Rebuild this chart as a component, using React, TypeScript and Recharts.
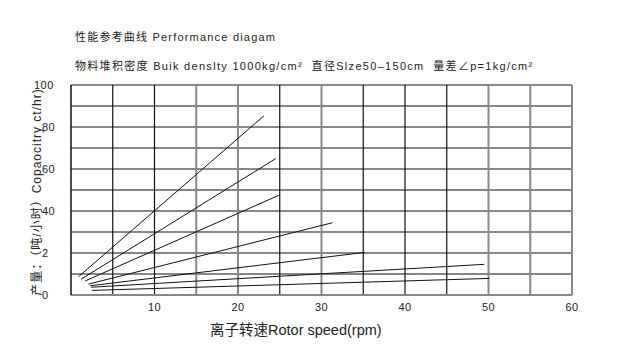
import { LineChart, Line, XAxis, YAxis, ReferenceLine } from 'recharts';

// rotor speed (rpm) -> capacity (t/hr), each curve is a straight segment
const line1 = [{ x: 0.9, y: 8.7 }, { x: 23.1, y: 85.3 }];
const line2 = [{ x: 1.2, y: 7.5 }, { x: 24.5, y: 64.9 }];
const line3 = [{ x: 1.7, y: 6.7 }, { x: 24.9, y: 47.5 }];
const line4 = [{ x: 2.1, y: 5.2 }, { x: 31.3, y: 34.4 }];
const line5 = [{ x: 2.3, y: 4.4 }, { x: 35.2, y: 20.3 }];
const line6 = [{ x: 2.4, y: 3.7 }, { x: 49.5, y: 14.6 }];
const line7 = [{ x: 2.5, y: 2.2 }, { x: 50.1, y: 7.9 }];
const curves = [line1, line2, line3, line4, line5, line6, line7];

const xTicks = [10, 20, 30, 40, 50, 60];
const yTicks = [0, 20, 40, 60, 80, 100];
const yTickLabels = ['0', '2', '40', '60', '80', '100'];

const darkGridX = [5, 10, 25, 35, 40, 45];
const lightGridX = [15, 20, 30, 50, 55, 60];
const darkGridY = [10, 20, 40, 50, 70, 80, 90];
const lightGridY = [30, 60, 100];

const latin = '"Liberation Sans", Arial, sans-serif';
const cjk = '"Liberation Sans", "Noto Sans CJK SC", sans-serif';

function YTick({ x, y, payload }: any) {
  const i = yTicks.indexOf(payload.value);
  const dx = payload.value === 100 ? -29 : -21;
  return (
    <text x={x + dx} y={y} dy={4} fontSize={11} fill="#222" fontFamily={latin} letterSpacing={0.5}>
      {yTickLabels[i]}
    </text>
  );
}

export default function App() {
  return (
    <div style={{ position: 'absolute', left: 0, top: 0, width: 617, height: 359, background: '#fff', fontFamily: cjk, color: '#222' }}>
      <div style={{ position: 'absolute', left: 75, top: 28, fontSize: 11, letterSpacing: 1.2, whiteSpace: 'pre' }}>
        性能参考曲线 Performance diagam
      </div>
      <div style={{ position: 'absolute', left: 75, top: 57, fontSize: 11, letterSpacing: 1.3, whiteSpace: 'pre' }}>
        物料堆积密度 Buik denslty 1000kg/cm²  直径Slze50–150cm  量差∠p=1kg/cm²
      </div>
      <div style={{ position: 'absolute', left: 35, top: 192, width: 0, height: 0 }}>
        <div
          style={{
            position: 'absolute', left: 0, top: 0, transform: 'translate(-50%, -50%) rotate(-90deg)',
            fontSize: 12, letterSpacing: 1, whiteSpace: 'pre',
          }}
        >
          产量：（吨/小时）Copaocitry ct/hr)
        </div>
      </div>
      <div style={{ position: 'absolute', left: 210, top: 318, fontSize: 14.5, whiteSpace: 'nowrap' }}>
        离子转速Rotor speed(rpm)
      </div>
      <LineChart width={617} height={359} margin={{ top: 85, right: 45, bottom: 34, left: 41 }}>
        <XAxis
          type="number"
          dataKey="x"
          domain={[0, 60]}
          ticks={xTicks}
          tickLine={false}
          axisLine={{ stroke: '#888', strokeWidth: 2 }}
          tick={{ fontSize: 11, fill: '#222', fontFamily: latin, letterSpacing: 0.5 }}
          height={30}
          allowDataOverflow
        />
        <YAxis
          type="number"
          domain={[0, 100]}
          ticks={yTicks}
          tickLine={false}
          axisLine={{ stroke: '#111', strokeWidth: 1.5 }}
          tick={<YTick />}
          width={30}
          allowDataOverflow
        />
        {darkGridY.map((v) => (
          <ReferenceLine key={'dy' + v} y={v} stroke="#111" strokeWidth={1.2} />
        ))}
        {lightGridY.map((v) => (
          <ReferenceLine key={'ly' + v} y={v} stroke="#888" strokeWidth={2} />
        ))}
        {darkGridX.map((v) => (
          <ReferenceLine key={'dx' + v} x={v} stroke="#111" strokeWidth={1.2} />
        ))}
        {lightGridX.map((v) => (
          <ReferenceLine key={'lx' + v} x={v} stroke="#888" strokeWidth={2} />
        ))}
        {curves.map((d, i) => (
          <Line
            key={i}
            data={d}
            dataKey="y"
            type="linear"
            stroke="#111"
            strokeWidth={1}
            dot={false}
            isAnimationActive={false}
          />
        ))}
      </LineChart>
    </div>
  );
}
